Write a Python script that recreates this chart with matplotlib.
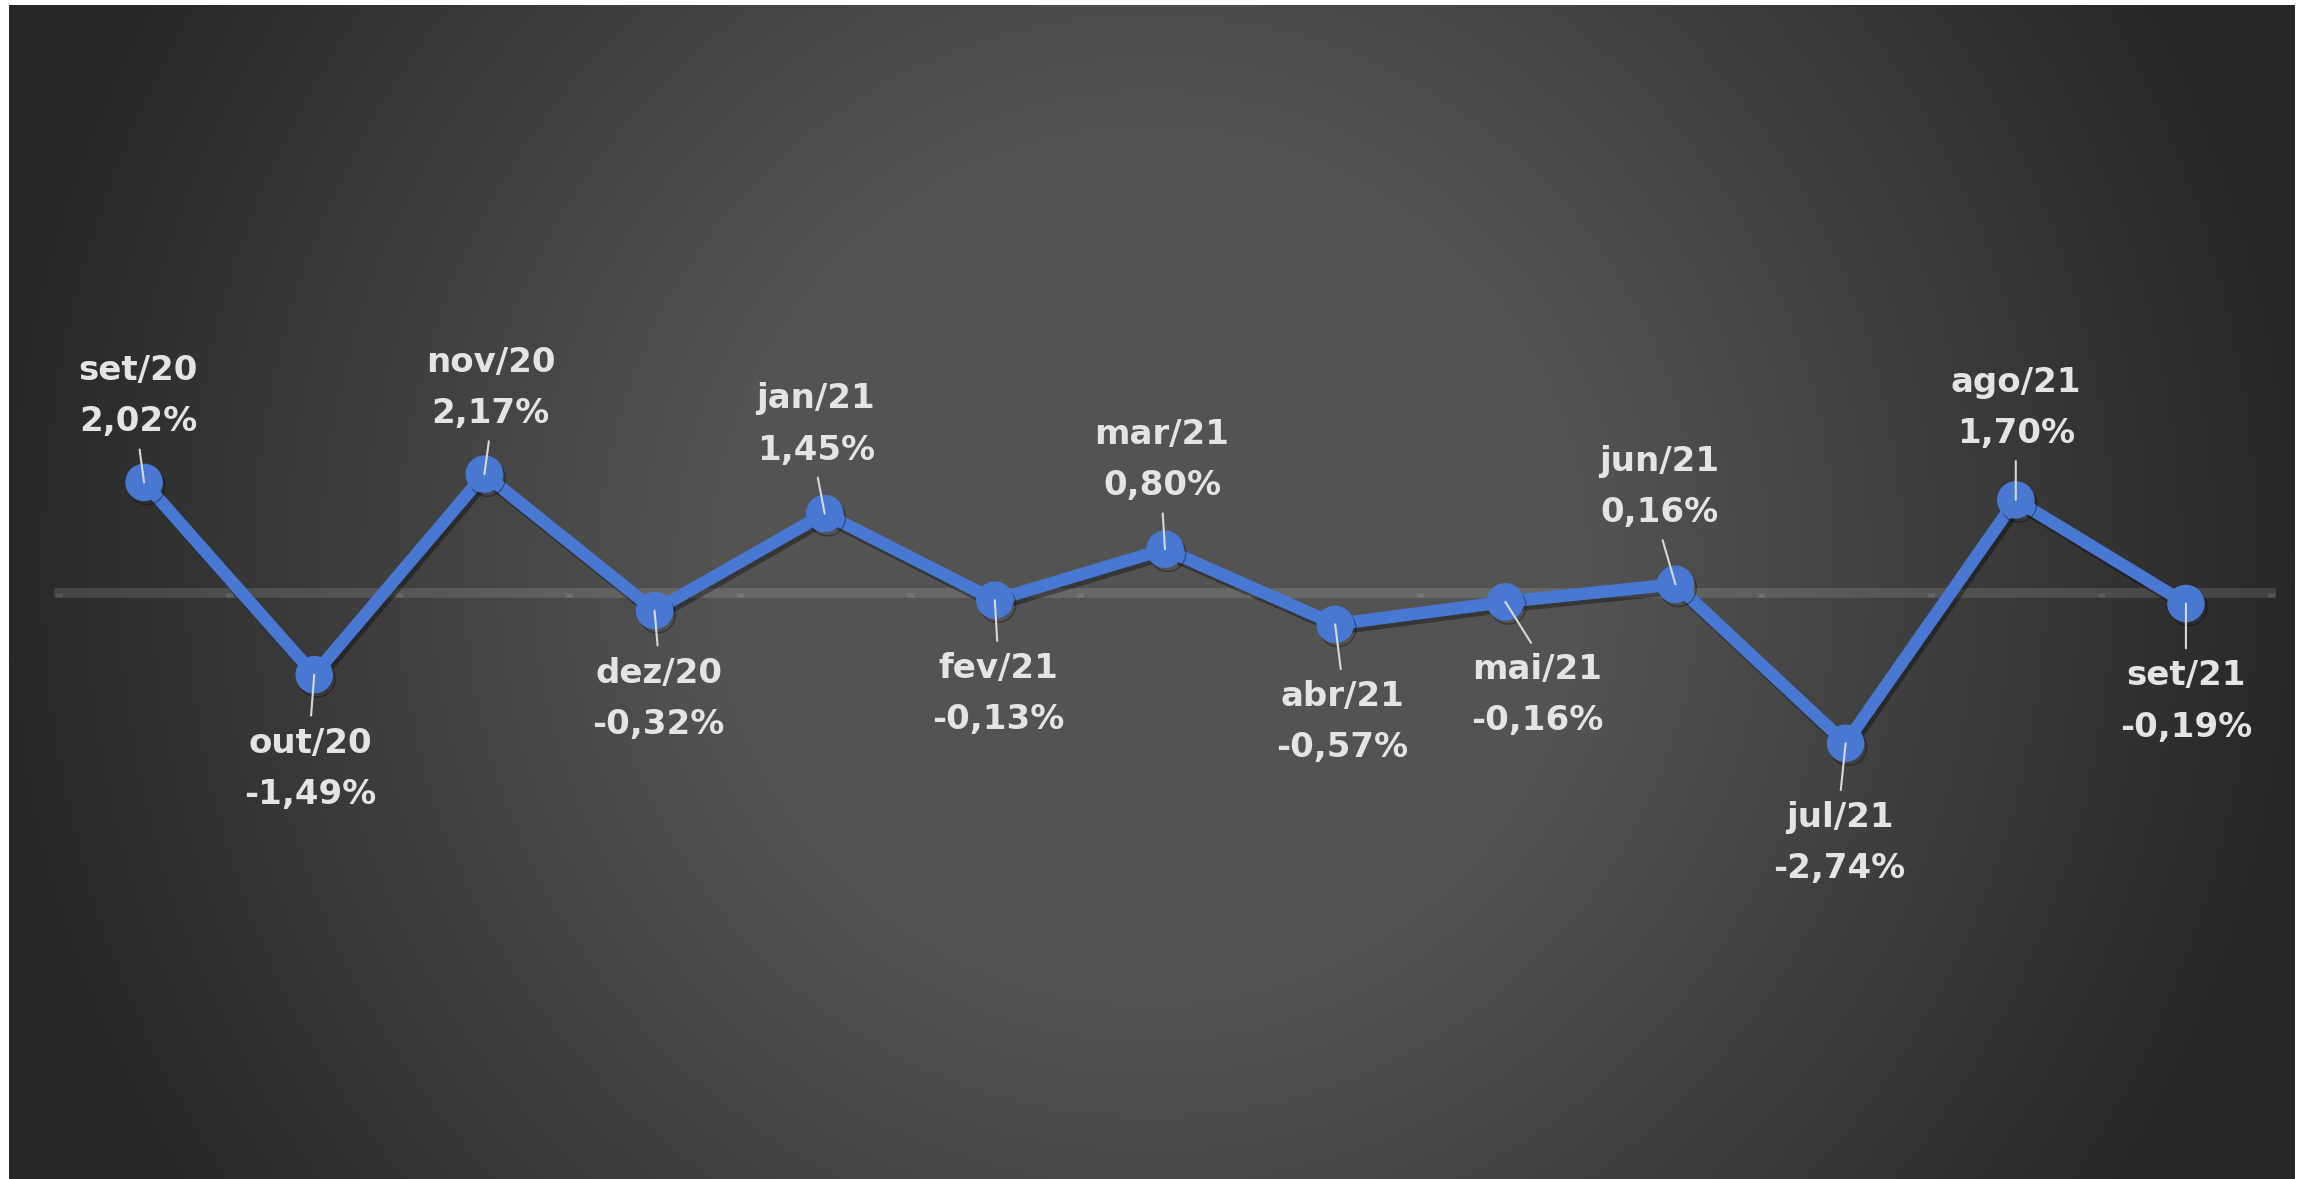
import numpy as np
import matplotlib.pyplot as plt
import matplotlib.patheffects as pe

# monthly variation (%)
months = ['set/20', 'out/20', 'nov/20', 'dez/20', 'jan/21', 'fev/21', 'mar/21',
          'abr/21', 'mai/21', 'jun/21', 'jul/21', 'ago/21', 'set/21']
values = [2.02, -1.49, 2.17, -0.32, 1.45, -0.13, 0.80,
          -0.57, -0.16, 0.16, -2.74, 1.70, -0.19]

# label placement relative to each point (pixels)
label_offsets = [(-6, 86), (-4, -94), (6, 86), (4, -88), (-9, 89), (3, -94), (-3, 89),
                 (7, -98), (32, -93), (-16, 97), (-6, -100), (0, 92), (0, -98)]

W, H = 2305, 1179
fig = plt.figure(figsize=(W / 100, H / 100), dpi=100)
fig.patch.set_facecolor('white')

# radial gradient background
bg = fig.add_axes([9 / W, 0, 2286 / W, 1174 / H])
yy, xx = np.mgrid[0:1174:2, 0:2286:2]
d = np.hypot(xx - 1140, yy - 560)
t = np.clip((d - 440) / 720, 0, 1)
g = (0x53 - (0x53 - 0x27) * t) / 255
bg.imshow(np.dstack([g, g, g]), aspect='auto', interpolation='bilinear')
bg.axis('off')

ax = fig.add_axes([59 / W, 0, 2212 / W, 1])
ax.patch.set_alpha(0)
x = np.arange(len(months))
ax.set_xlim(-0.5, len(months) - 0.5)
ax.set_ylim(-10.69, 10.82)

for s in ['top', 'right', 'left']:
    ax.spines[s].set_visible(False)
ax.spines['bottom'].set_position(('data', 0))
ax.spines['bottom'].set_color((1, 1, 1, 0.12))
ax.spines['bottom'].set_linewidth(7)
ax.set_yticks([])
ax.set_xticks(np.arange(-0.5, len(months), 1.0))
ax.set_xticklabels([])
ax.tick_params(axis='x', length=3, width=5, color=(1, 1, 1, 0.1), direction='out')

blue = '#4878D2'
ax.plot(x, values, color=blue, lw=9, marker='o', ms=26, mfc=blue, mec=blue,
        solid_joinstyle='round', zorder=3,
        path_effects=[pe.SimpleLineShadow(offset=(2, -3), alpha=0.35, shadow_color='black'),
                      pe.Normal()])

for xi, v, m, (dx, dy) in zip(x, values, months, label_offsets):
    txt = f"{m}\n{v:.2f}%".replace('.', ',')
    rel = (0.5, 0.0) if dy > 0 else (0.5, 1.0)
    ax.annotate(txt, xy=(xi, v), xytext=(dx, dy), textcoords='offset pixels',
                ha='center', va='center', multialignment='center',
                fontsize=24.5, fontweight='bold', family='DejaVu Sans',
                color='#E4E4E4', linespacing=1.7, zorder=5,
                arrowprops=dict(arrowstyle='-', color='#D8D8D8', lw=1.5,
                                shrinkA=6, shrinkB=0, relpos=rel))

fig.savefig('out.png', dpi=100)
